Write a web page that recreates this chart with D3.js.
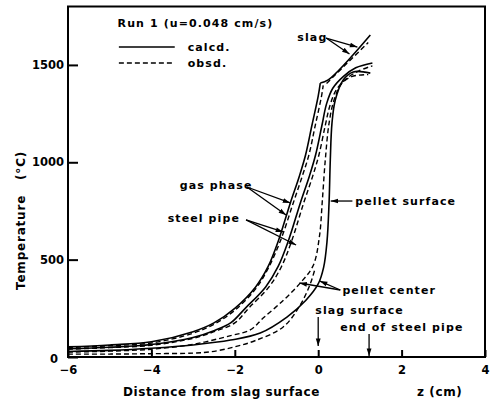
<!DOCTYPE html>
<html>
<head>
<meta charset="utf-8">
<script src="https://cdn.jsdelivr.net/npm/d3@7"></script>
<style>
  body { margin: 0; background: #fff; }
  svg text { font-family: "DejaVu Sans", sans-serif; font-weight: bold; fill: #000; }
</style>
</head>
<body>
<svg id="chart" width="496" height="403"></svg>
<script>
// Run 1 temperature profiles.
// z = distance from slag surface (cm), T = temperature (°C)
const zTicks = [-6, -4, -2, 0, 2, 4];
const tTicks = [0, 500, 1000, 1500];

const gasCalcZ = [-6, -5, -4, -3, -2.5, -2, -1.5, -1.2, -0.95, -0.67, -0.45, -0.3, -0.15, 0, 0.05];
const gasCalcT = [52, 62, 78, 130, 175, 250, 360, 465, 600, 790, 930, 1040, 1190, 1340, 1407];
const gasObsZ  = [-6, -5, -4, -3, -2.5, -2, -1.5, -1.2, -0.9, -0.6, -0.38, -0.22, -0.07, 0.08, 0.12];
const gasObsT  = [48, 58, 72, 122, 168, 240, 350, 455, 600, 790, 930, 1040, 1190, 1340, 1395];

// slag (continuation of the gas phase curve above z = 0)
const slagCalcZ = [0.05, 0.24, 1.25];
const slagCalcT = [1407, 1423, 1654];
const slagObsZ  = [0.2, 1.2];
const slagObsT  = [1405, 1615];

const pipeCalcZ = [-6, -5, -4, -3, -2.5, -2.1, -1.75, -1.26, -0.96, -0.71, -0.43, -0.21, -0.06, 0.09, 0.2, 0.35, 0.6, 0.9, 1.3];
const pipeCalcT = [42, 50, 64, 100, 135, 175, 250, 360, 465, 600, 790, 930, 1040, 1190, 1300, 1380, 1440, 1485, 1510];
const pipeObsZ  = [-6, -5, -4, -3, -2.5, -2.0, -1.67, -1.18, -0.88, -0.63, -0.35, -0.13, 0.02, 0.17, 0.28, 0.43, 0.68, 0.98, 1.3];
const pipeObsT  = [40, 48, 60, 96, 130, 175, 250, 360, 465, 600, 790, 930, 1040, 1190, 1290, 1370, 1430, 1470, 1495];

const pelletCalcZ = [-6, -5, -4, -3, -2.1, -1.39, -0.75, -0.3, 0.0, 0.13, 0.21, 0.26, 0.29, 0.33, 0.41, 0.6, 0.84, 1.25];
const pelletCalcT = [28, 34, 45, 62, 87, 123, 205, 290, 375, 460, 590, 790, 1012, 1200, 1320, 1423, 1464, 1458];
const pelletObsZ  = [-6, -5, -4, -3, -2.1, -1.63, -1.32, -0.84, -0.43, -0.12, 0.03, 0.1, 0.17, 0.26, 0.38, 0.55, 0.8, 1.2];
const pelletObsT  = [25, 30, 40, 65, 110, 139, 200, 290, 380, 470, 620, 806, 1012, 1200, 1320, 1400, 1440, 1450];
const centerObsZ  = [-6, -5, -4, -3, -2.6, -2.04, -1.5, -0.84, -0.45, -0.2, -0.08];
const centerObsT  = [15, 15, 17, 20, 26, 50, 85, 154, 260, 370, 450];

const series = [
  { z: gasCalcZ, t: gasCalcT, dashed: false },
  { z: gasObsZ, t: gasObsT, dashed: true },
  { z: slagCalcZ, t: slagCalcT, dashed: false },
  { z: slagObsZ, t: slagObsT, dashed: true },
  { z: pipeCalcZ, t: pipeCalcT, dashed: false },
  { z: pipeObsZ, t: pipeObsT, dashed: true },
  { z: pelletCalcZ, t: pelletCalcT, dashed: false },
  { z: pelletObsZ, t: pelletObsT, dashed: true },
  { z: centerObsZ, t: centerObsT, dashed: true },
];

const svg = d3.select('#chart');
const x = d3.scaleLinear().domain([-6, 4]).range([68, 485]);
const y = d3.scaleLinear().domain([0, 1800]).range([357, 6.5]);

// arrow head
svg.append('defs').append('marker')
  .attr('id', 'arr').attr('viewBox', '0 -4 10 8').attr('refX', 10).attr('refY', 0)
  .attr('markerUnits', 'userSpaceOnUse').attr('markerWidth', 8).attr('markerHeight', 6)
  .attr('orient', 'auto')
  .append('path').attr('d', 'M0,-3.2L10,0L0,3.2Z').attr('fill', '#000');

// frame
svg.append('rect')
  .attr('x', x(-6)).attr('y', y(1800)).attr('width', x(4) - x(-6)).attr('height', y(0) - y(1800))
  .attr('fill', 'none').attr('stroke', '#000').attr('stroke-width', 2);

// axes, ticks pointing inward
const xAxis = svg.append('g').attr('transform', `translate(0,${y(0)})`)
  .call(d3.axisBottom(x).tickValues(zTicks).tickSize(-7).tickPadding(9));
const yAxis = svg.append('g').attr('transform', `translate(${x(-6)},0)`)
  .call(d3.axisLeft(y).tickValues(tTicks).tickFormat(d3.format('d')).tickSize(-10).tickPadding(4));
[xAxis, yAxis].forEach(g => {
  g.select('.domain').remove();
  g.selectAll('line').attr('stroke', '#000').attr('stroke-width', 2);
  g.selectAll('text').style('font-size', '11.5px').attr('fill', '#000');
});
yAxis.selectAll('.tick').filter(d => d === 0).select('text').attr('dx', -6).attr('dy', '0.5em');

// curves
const line = d3.line().x(d => x(d[0])).y(d => y(d[1])).curve(d3.curveCatmullRom.alpha(0.5));
svg.append('g').selectAll('path').data(series).enter().append('path')
  .attr('d', s => line(s.z.map((z, i) => [z, s.t[i]])))
  .attr('fill', 'none').attr('stroke', '#000')
  .attr('stroke-width', s => s.dashed ? 1.4 : 1.6)
  .attr('stroke-dasharray', s => s.dashed ? '5,3' : null);

// legend
const lg = svg.append('g');
lg.append('text').attr('x', x(-4.81)).attr('y', y(1715)).attr('dy', '0.35em')
  .style('font-size', '11px').style('letter-spacing', '1.1px').text('Run 1 (u=0.048 cm/s)');
[['calcd.', 1592, null], ['obsd.', 1510, '5,3']].forEach(([lab, t, dash]) => {
  lg.append('line').attr('x1', x(-4.78)).attr('x2', x(-3.44)).attr('y1', y(t)).attr('y2', y(t))
    .attr('stroke', '#000').attr('stroke-width', 1.6).attr('stroke-dasharray', dash);
  lg.append('text').attr('x', x(-3.13)).attr('y', y(t)).attr('dy', '0.35em')
    .style('font-size', '11px').style('letter-spacing', '1.1px').text(lab);
});

// annotations: text position and arrows, all in data units
const notes = [
  { text: 'slag', z: -0.5, t: 1644, from: [0.19, 1638], to: [[0.94, 1592], [0.75, 1556]] },
  { text: 'gas phase', z: -3.32, t: 883, from: [-1.71, 873], to: [[-0.67, 791], [-0.77, 729]] },
  { text: 'steel pipe', z: -3.61, t: 714, from: [-1.73, 704], to: [[-0.84, 642], [-0.53, 575]] },
  { text: 'pellet surface', z: 0.89, t: 801, from: [0.82, 801], to: [[0.3, 801]] },
  { text: 'pellet center', z: 0.58, t: 344, from: [0.53, 344], to: [[-0.45, 380], [0.04, 390]] },
  { text: 'slag surface', z: -0.07, t: 241, from: [0, 205], to: [[0, 56]] },
  { text: 'end of steel pipe', z: 0.53, t: 154, from: [1.22, 118], to: [[1.22, 5]] },
];
const ann = svg.append('g');
notes.forEach(n => {
  ann.append('text').attr('x', x(n.z)).attr('y', y(n.t)).attr('dy', '0.35em')
    .style('font-size', '11px').style('letter-spacing', '1.1px').text(n.text);
  n.to.forEach(p => {
    ann.append('line')
      .attr('x1', x(n.from[0])).attr('y1', y(n.from[1]))
      .attr('x2', x(p[0])).attr('y2', y(p[1]))
      .attr('stroke', '#000').attr('stroke-width', 1.3).attr('marker-end', 'url(#arr)');
  });
});

// axis titles
svg.append('text').attr('x', 123).attr('y', 396)
  .style('font-size', '12px').style('letter-spacing', '0.6px').text('Distance from slag surface');
svg.append('text').attr('x', 417).attr('y', 396)
  .style('font-size', '12px').style('letter-spacing', '0.6px').text('z (cm)');
svg.append('text').attr('transform', 'translate(25,290) rotate(-90)')
  .style('font-size', '12px').style('letter-spacing', '0.8px').style('white-space', 'pre')
  .text('Temperature   (°C)');
</script>
</body>
</html>
